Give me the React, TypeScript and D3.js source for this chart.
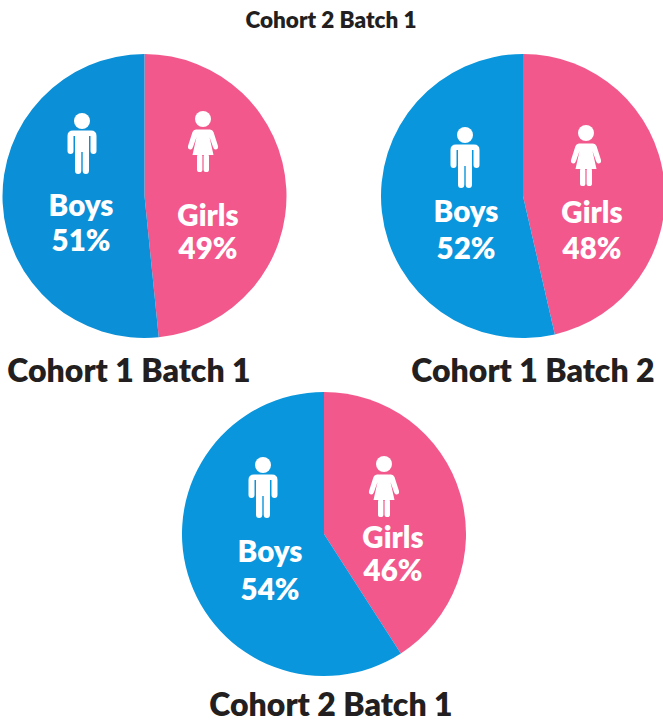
import React from "react";
import * as d3 from "d3";

const title = "Cohort 2 Batch 1";
const cohortNames = ["Cohort 1 Batch 1", "Cohort 1 Batch 2", "Cohort 2 Batch 1"];
const groupNames = ["Girls", "Boys"];
// printed percentages
const girlsLabels = [49, 48, 46];
const boysLabels = [51, 52, 54];
// slice sizes as drawn in the picture, they differ a bit from the printed numbers
const girlsDrawn = [48.4, 46.4, 40.9];
const boysDrawn = [51.6, 53.6, 59.1];

const blues = ["#0b8fd6", "#0a96dc", "#0a96dc"];
const pink = "#f2588c";
const font = "Lato, sans-serif";

const width = 663;
const height = 722;
const radius = 142;

const layouts = [
  {
    cx: 144.5, cy: 196, captionX: 129, captionY: 382,
    boyIcon: [82, 121], girlIcon: [203, 119],
    boysText: [81, 215.5, 250.5], girlsText: [208, 225.5, 258.5],
  },
  {
    cx: 523, cy: 196, captionX: 533, captionY: 382,
    boyIcon: [465, 135], girlIcon: [586, 133],
    boysText: [466, 221.5, 258.5], girlsText: [592, 222.5, 258.5],
  },
  {
    cx: 324, cy: 534, captionX: 331, captionY: 716,
    boyIcon: [263, 465], girlIcon: [384, 464],
    boysText: [270, 561.5, 599.5], girlsText: [393, 547.5, 580.5],
  },
];

const pie = d3.pie<number>().sort(null).value((d) => d);
const arc = d3.arc<d3.PieArcDatum<number>>().innerRadius(0).outerRadius(radius);

// x,y is the centre of the head
function BoyIcon({ x, y }: { x: number; y: number }) {
  return (
    <g transform={`translate(${x},${y})`} fill="white">
      <circle r={8} />
      <path d="M-14.5,15 Q-14.5,9.5 -9,9.5 H9 Q14.5,9.5 14.5,15 V30 Q14.5,33 11.5,33 Q8.5,33 8.5,30 V15 H7 V49.5 Q7,53 3.9,53 Q0.7,53 0.7,49.5 V31 H-0.7 V49.5 Q-0.7,53 -3.9,53 Q-7,53 -7,49.5 V15 H-8.5 V30 Q-8.5,33 -11.5,33 Q-14.5,33 -14.5,30 Z" />
    </g>
  );
}

function GirlIcon({ x, y }: { x: number; y: number }) {
  return (
    <g transform={`translate(${x},${y})`} fill="white">
      <circle r={8} />
      <path d="M-7,10.5 H7 Q9.5,10.5 10.5,13 L15,27 Q15.5,30 13,30.5 Q11,31 10,28 L6.5,18 L10.5,36 H-10.5 L-6.5,18 L-10,28 Q-11,31 -13,30.5 Q-15.5,30 -15,27 L-10.5,13 Q-9.5,10.5 -7,10.5 Z" />
      <rect x={-6} y={35} width={5.4} height={18} rx={2.6} />
      <rect x={0.6} y={35} width={5.4} height={18} rx={2.6} />
    </g>
  );
}

function PieLabel({ name, pct, pos }: { name: string; pct: number; pos: number[] }) {
  return (
    <g fill="white" fontFamily={font} fontWeight={800} fontSize={29.5} textAnchor="middle">
      <text x={pos[0]} y={pos[1]}>{name}</text>
      <text x={pos[0]} y={pos[2]}>{pct}%</text>
    </g>
  );
}

export default function App() {
  return (
    <svg
      width={width}
      height={height}
      style={{ position: "absolute", left: 0, top: 0, background: "white" }}
    >
      <text x={331} y={28} textAnchor="middle" fontFamily={font} fontWeight={800} fontSize={22.5} fill="#231f20">
        {title}
      </text>
      {layouts.map((l, i) => {
        const slices = pie([girlsDrawn[i], boysDrawn[i]]);
        return (
          <g key={cohortNames[i]}>
            <g transform={`translate(${l.cx},${l.cy})`}>
              <path d={arc(slices[0]) ?? ""} fill={pink} />
              <path d={arc(slices[1]) ?? ""} fill={blues[i]} />
            </g>
            <BoyIcon x={l.boyIcon[0]} y={l.boyIcon[1]} />
            <GirlIcon x={l.girlIcon[0]} y={l.girlIcon[1]} />
            <PieLabel name={groupNames[1]} pct={boysLabels[i]} pos={l.boysText} />
            <PieLabel name={groupNames[0]} pct={girlsLabels[i]} pos={l.girlsText} />
            <text
              x={l.captionX}
              y={l.captionY}
              textAnchor="middle"
              fontFamily={font}
              fontWeight={800}
              fontSize={32}
              fill="#231f20"
            >
              {cohortNames[i]}
            </text>
          </g>
        );
      })}
    </svg>
  );
}
